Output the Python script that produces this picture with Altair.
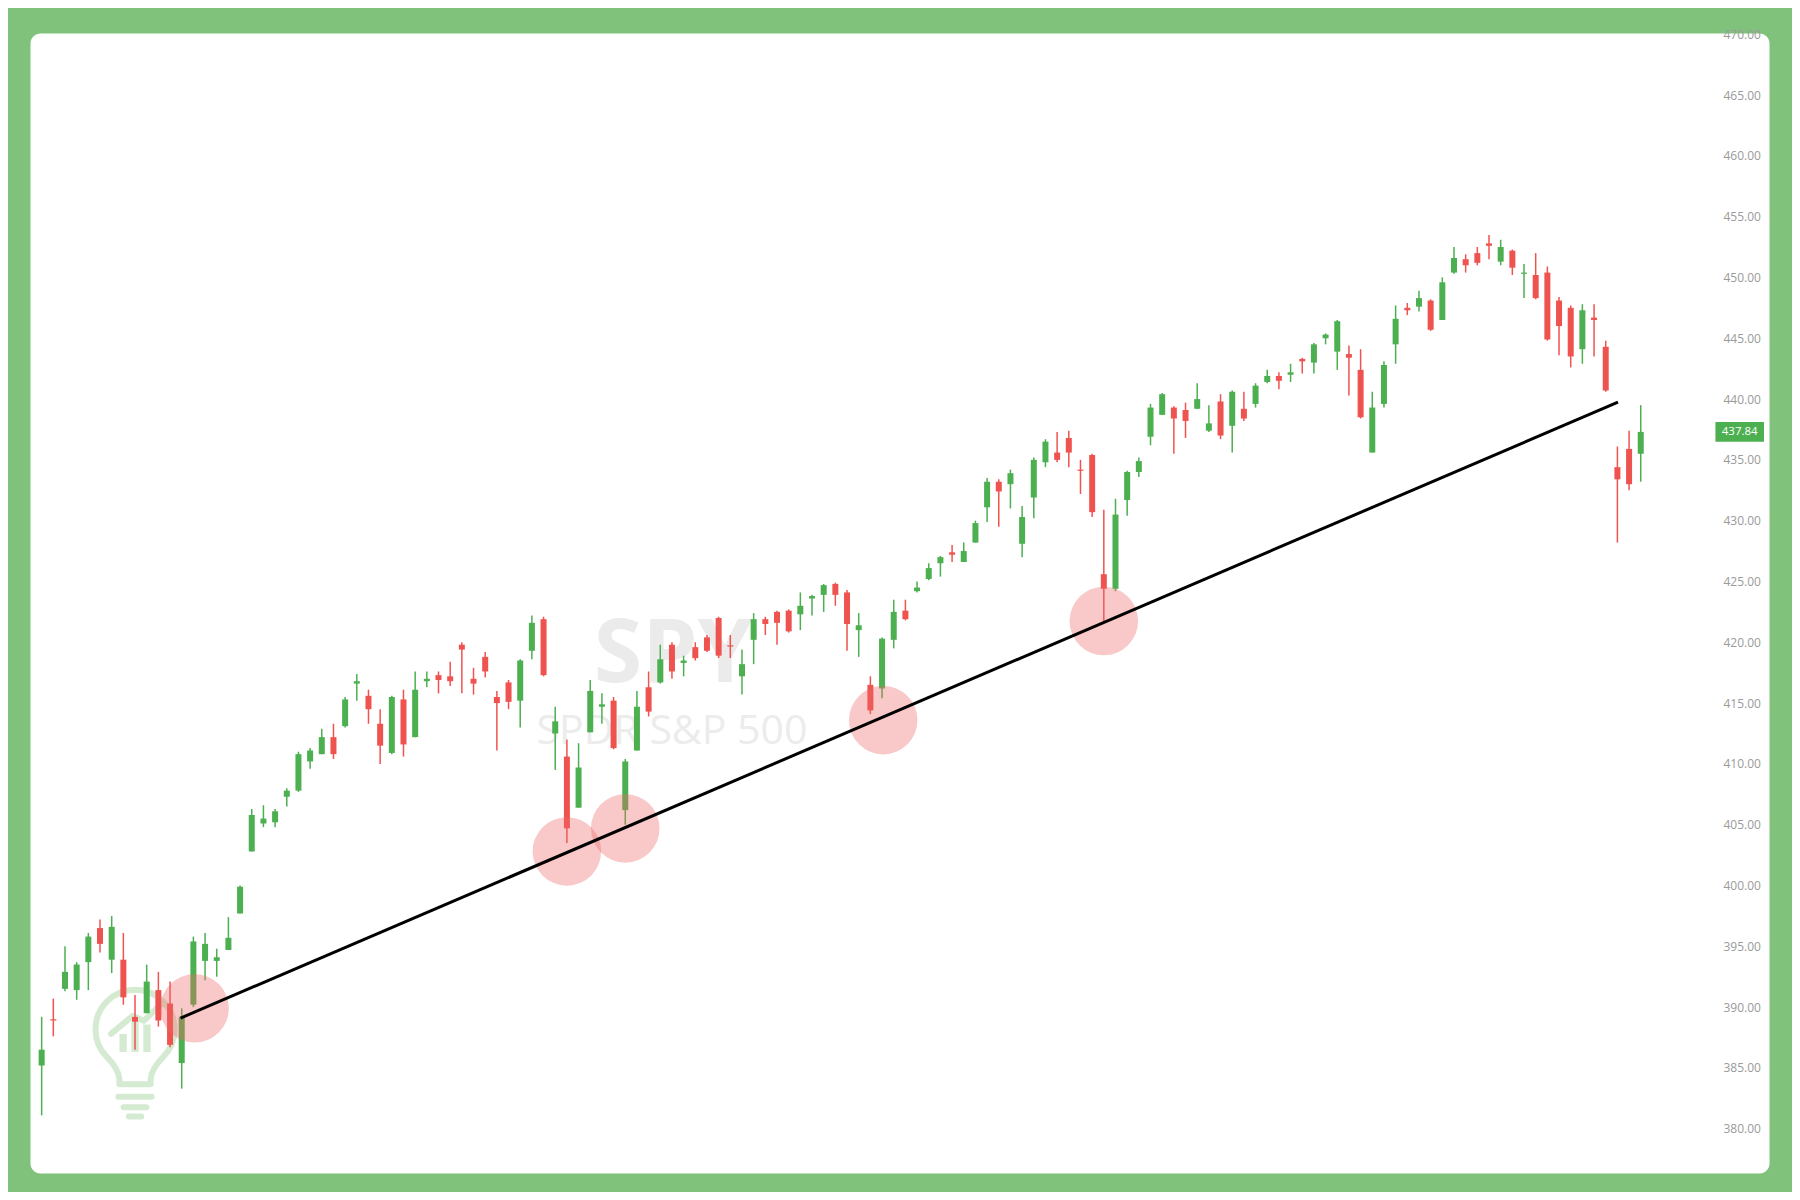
import altair as alt
import pandas as pd

# ---- data (daily SPY candles, oldest -> newest) ----
opens = [385.2, 389.0, 391.5, 391.4, 393.7, 396.5, 393.9, 393.9, 389.2, 389.5,
         391.4, 390.3, 385.4, 390.2, 393.8, 393.8, 394.7, 397.7, 402.8, 405.1,
         405.2, 407.3, 407.8, 410.2, 410.8, 412.2, 413.1, 416.6, 415.6, 413.3,
         410.9, 415.3, 412.2, 416.8, 417.3, 417.2, 419.8, 417.0, 418.8, 415.5,
         416.7, 415.2, 419.3, 421.9, 412.5, 410.6, 406.4, 412.6, 414.7, 415.2,
         406.2, 411.1, 416.3, 416.7, 419.8, 418.3, 419.6, 420.4, 422.0, 419.75,
         417.2, 420.2, 421.9, 422.5, 422.6, 422.3, 423.6, 423.9, 424.8, 424.1,
         421.0, 416.5, 416.2, 420.2, 422.6, 424.2, 425.2, 426.5, 427.4, 426.6,
         428.2, 431.1, 433.2, 433.0, 428.1, 431.9, 434.8, 435.6, 436.8, 434.2,
         435.4, 425.6, 424.4, 431.7, 434.0, 436.9, 438.7, 439.3, 439.1, 439.2,
         437.4, 439.8, 437.8, 439.2, 439.6, 441.4, 441.9, 442.0, 443.3, 443.0,
         445.0, 443.9, 443.7, 442.4, 435.6, 439.6, 444.5, 447.5, 447.6, 448.1,
         446.5, 450.4, 451.5, 452.0, 452.8, 451.3, 452.2, 450.3, 450.2, 450.4,
         448.1, 447.5, 444.1, 446.7, 444.3, 434.4, 435.9, 435.5]
highs = [389.2, 390.7, 395.0, 393.7, 396.1, 397.2, 397.5, 396.1, 391.0, 393.5,
         392.9, 392.1, 389.9, 395.8, 396.1, 394.8, 397.4, 400.0, 406.3, 406.6,
         406.3, 408.0, 411.0, 411.3, 412.9, 413.3, 415.5, 417.4, 416.1, 414.5,
         415.6, 416.1, 417.6, 417.6, 417.6, 418.4, 420.0, 417.9, 419.2, 416.0,
         416.9, 418.6, 422.2, 422.1, 414.7, 412.0, 411.7, 416.9, 415.8, 415.5,
         410.4, 416.0, 417.6, 419.8, 420.0, 418.9, 420.0, 420.6, 422.1, 420.6,
         419.4, 422.4, 422.1, 422.6, 422.7, 424.1, 423.9, 424.8, 424.9, 424.3,
         422.4, 417.2, 420.4, 423.5, 423.5, 425.0, 426.5, 427.1, 428.0, 428.2,
         430.0, 433.5, 433.4, 434.2, 431.2, 435.2, 436.7, 437.3, 437.4, 435.0,
         435.5, 430.9, 431.8, 434.1, 435.2, 439.6, 440.5, 439.4, 439.7, 441.3,
         439.5, 440.4, 440.7, 440.6, 441.3, 442.4, 442.2, 442.9, 443.4, 444.6,
         445.4, 446.5, 444.4, 444.1, 440.6, 443.1, 447.7, 447.9, 448.9, 448.2,
         450.0, 452.5, 451.9, 452.5, 453.5, 453.1, 452.3, 451.1, 452.0, 450.9,
         448.4, 447.7, 447.8, 447.8, 444.8, 436.1, 437.4, 439.5]
lows = [381.1, 387.6, 391.3, 390.6, 391.4, 394.5, 392.8, 390.2, 386.5, 389.5,
        388.4, 386.7, 383.3, 390.0, 392.2, 392.5, 394.7, 397.7, 402.8, 404.8,
        404.8, 406.5, 407.7, 409.6, 410.8, 410.4, 413.0, 415.2, 413.3, 410.0,
        410.8, 410.6, 412.2, 416.3, 415.8, 416.4, 415.8, 415.7, 417.1, 411.1,
        414.5, 413.0, 418.6, 417.2, 409.5, 403.5, 406.4, 412.6, 413.3, 411.2,
        405.0, 411.1, 413.9, 416.6, 417.0, 417.2, 418.5, 419.2, 418.7, 418.7,
        415.7, 418.2, 420.6, 419.8, 420.8, 421.0, 422.2, 422.5, 423.0, 419.3,
        418.8, 414.1, 415.4, 419.5, 421.8, 424.1, 425.1, 425.4, 426.6, 426.6,
        428.2, 429.9, 429.5, 431.0, 427.0, 430.2, 434.4, 434.8, 434.4, 432.2,
        430.3, 421.7, 424.2, 430.4, 433.6, 436.2, 438.7, 435.5, 436.8, 439.2,
        437.3, 436.7, 435.6, 438.2, 439.3, 441.3, 440.8, 441.4, 442.1, 442.1,
        444.5, 442.4, 440.3, 438.4, 435.6, 439.3, 442.9, 446.9, 447.2, 445.6,
        446.5, 450.3, 450.4, 451.0, 451.5, 451.0, 450.2, 448.3, 448.2, 444.8,
        443.6, 442.6, 442.9, 443.5, 440.6, 428.2, 432.5, 433.2]
closes = [386.5, 388.9, 392.9, 393.5, 395.8, 395.2, 396.6, 390.8, 388.8, 392.1,
          388.9, 386.9, 389.2, 395.4, 395.2, 394.1, 395.7, 399.9, 405.8, 405.5,
          406.1, 407.8, 410.8, 411.1, 412.2, 410.8, 415.3, 416.8, 414.5, 411.5,
          415.5, 411.6, 416.1, 417.0, 416.9, 416.8, 419.4, 416.6, 417.6, 415.0,
          415.1, 418.5, 421.6, 417.3, 413.5, 404.7, 409.7, 416.0, 414.9, 411.3,
          410.2, 414.7, 414.3, 418.6, 417.6, 418.5, 418.7, 419.3, 418.9, 419.65,
          418.2, 421.9, 421.5, 421.6, 420.9, 423.0, 423.8, 424.7, 423.9, 421.5,
          421.4, 414.4, 420.3, 422.5, 421.9, 424.5, 426.1, 427.0, 427.2, 427.5,
          429.8, 433.2, 432.4, 433.9, 430.3, 435.0, 436.5, 435.0, 435.6, 434.1,
          430.7, 424.4, 430.5, 434.0, 434.9, 439.3, 440.4, 438.4, 438.2, 440.0,
          438.0, 437.0, 440.6, 438.4, 441.1, 441.9, 441.5, 442.2, 443.1, 444.5,
          445.3, 446.4, 443.4, 438.5, 439.3, 442.8, 446.6, 447.3, 448.3, 445.7,
          449.6, 451.6, 451.0, 451.2, 452.6, 452.5, 450.8, 450.4, 448.3, 444.9,
          446.0, 443.5, 447.3, 446.5, 440.7, 433.4, 433.0, 437.3]

y_ticks = [380, 385, 390, 395, 400, 405, 410, 415, 420, 425, 430, 435, 440,
           445, 450, 455, 460, 465, 470]

# support touches (circles) and the trendline
touch_idx = [13.1, 45.0, 50.0, 72.1, 91.0]
touch_price = [389.9, 402.8, 404.7, 413.6, 421.75]
trend_idx = [11.9, 135.05]
trend_price = [389.1, 439.75]

last_price_label = "437.84"
watermark_title = "SPY"
watermark_sub = "SPDR S&P 500"

# ---- styles ----
GREEN = "#4caf50"
RED = "#ef5350"
BG = "#80c27b"
ICON = "#d4ebd2"

candles = pd.DataFrame({
    "idx": list(range(len(opens))),
    "open": opens, "high": highs, "low": lows, "close": closes,
})
candles["dir"] = ["up" if c >= o else "down" for o, c in zip(opens, closes)]

x_scale = alt.Scale(domain=[-0.57, 147.56], nice=False, zero=False)
y_scale = alt.Scale(domain=[376.36, 470.1], nice=False, zero=False)
color = alt.Color("dir:N", scale=alt.Scale(domain=["up", "down"], range=[GREEN, RED]),
                  legend=None)

y_axis = alt.Axis(values=y_ticks, format=".2f", orient="right", offset=-46,
                  labelPadding=0, ticks=False, domain=False, grid=False,
                  labelColor="#9a9a9a", labelFont="Open Sans", labelFontSize=12,
                  labelAlign="left", labelBaseline="middle", title=None,
                  labelOverlap=False, labelBound=False, labelFlush=False)

one = pd.DataFrame({"k": [0]})

wm1 = alt.Chart(one).mark_text(text=watermark_title, font="Open Sans", fontSize=88,
                               fontWeight="bold", color="#ebebeb",
                               align="center", baseline="middle").encode(
    x=alt.datum(54.1, scale=x_scale, axis=None),
    y=alt.datum(418.9, scale=y_scale, axis=y_axis),
)
wm2 = alt.Chart(one).mark_text(text=watermark_sub, font="Open Sans", fontSize=41,
                               color="#ececec", align="center",
                               baseline="middle").encode(
    x=alt.datum(54.0, scale=x_scale, axis=None),
    y=alt.datum(412.6, scale=y_scale, axis=y_axis),
)

# light-bulb logo drawn as custom symbol paths
bulb_path = ("M -0.384 0.070 C -0.486 -0.031 -0.543 -0.170 -0.543 -0.314 "
             "C -0.543 -0.614 -0.300 -0.857 0 -0.857 "
             "C 0.300 -0.857 0.543 -0.614 0.543 -0.314 "
             "C 0.543 -0.170 0.486 -0.031 0.384 0.070 "
             "Q 0.229 0.229 0.214 0.371 L 0.214 0.443 L -0.214 0.443 L -0.214 0.371 "
             "Q -0.229 0.229 -0.384 0.070 Z "
             "M -0.229 0.614 L 0.229 0.614 "
             "M -0.157 0.757 L 0.157 0.757 "
             "M -0.086 0.886 L 0.086 0.886 "
             "M -0.33 -0.25 L -0.03 -0.50 L 0.12 -0.43 L 0.37 -0.67")
bars_path = ("M -0.214 0 L -0.214 -0.25 L -0.114 -0.25 L -0.114 0 Z "
             "M -0.05 0 L -0.05 -0.42 L 0.05 -0.42 L 0.05 0 Z "
             "M 0.114 0 L 0.114 -0.38 L 0.214 -0.38 L 0.214 0 Z")

logo_outline = alt.Chart(one).mark_point(shape=bulb_path, size=21200, filled=False,
                                         stroke=ICON, strokeWidth=6,
                                         strokeCap="round", strokeJoin="round",
                                         opacity=1).encode(
    x=alt.datum(8.0, scale=x_scale, axis=None),
    y=alt.datum(386.3, scale=y_scale, axis=y_axis),
)
logo_bars = alt.Chart(one).mark_point(shape=bars_path, size=21200, filled=True,
                                      fill=ICON, strokeWidth=0, opacity=1).encode(
    x=alt.datum(8.0, scale=x_scale, axis=None),
    y=alt.datum(386.3, scale=y_scale, axis=y_axis),
)

base = alt.Chart(candles)
wicks = base.mark_rule(strokeWidth=1.5).encode(
    x=alt.X("idx:Q", scale=x_scale, axis=None),
    y=alt.Y("low:Q", scale=y_scale, axis=y_axis),
    y2="high:Q",
    color=color,
)
bodies = base.mark_bar(size=6).encode(
    x=alt.X("idx:Q", scale=x_scale, axis=None),
    y=alt.Y("open:Q", scale=y_scale, axis=y_axis),
    y2="close:Q",
    color=color,
)

touches = alt.Chart(pd.DataFrame({"idx": touch_idx, "price": touch_price})).mark_circle(
    size=4700, color="#ee6666", opacity=0.36).encode(
    x=alt.X("idx:Q", scale=x_scale, axis=None),
    y=alt.Y("price:Q", scale=y_scale, axis=y_axis),
)

trend = alt.Chart(pd.DataFrame({"idx": trend_idx, "price": trend_price})).mark_line(
    color="black", strokeWidth=3).encode(
    x=alt.X("idx:Q", scale=x_scale, axis=None),
    y=alt.Y("price:Q", scale=y_scale, axis=y_axis),
)

last = pd.DataFrame({"close": [closes[-1]], "label": [last_price_label]})
tag_rect = alt.Chart(last).transform_calculate(
    lo="datum.close - 0.82", hi="datum.close + 0.82"
).mark_rect(color=GREEN).encode(
    x=alt.datum(143.4, scale=x_scale, axis=None),
    x2=alt.datum(147.56),
    y=alt.Y("lo:Q", scale=y_scale, axis=y_axis),
    y2="hi:Q",
)
tag_text = alt.Chart(last).mark_text(color="white", font="Open Sans", fontSize=11.5,
                                     align="center", baseline="middle").encode(
    x=alt.datum(145.48, scale=x_scale, axis=None),
    y=alt.Y("close:Q", scale=y_scale, axis=y_axis),
    text="label:N",
)

chart = alt.layer(
    wm1, wm2, logo_outline, logo_bars, wicks, bodies, touches, trend, tag_rect, tag_text
).resolve_scale(y="shared").properties(
    width=1739, height=1140,
    background=BG,
    autosize=alt.AutoSizeParams(type="none"),
    padding={"left": 22, "top": 25, "right": 23, "bottom": 19},
).configure_view(fill="white", stroke="transparent", cornerRadius=10)

chart.save("out.html", embed_options={"renderer": "svg", "actions": False})
